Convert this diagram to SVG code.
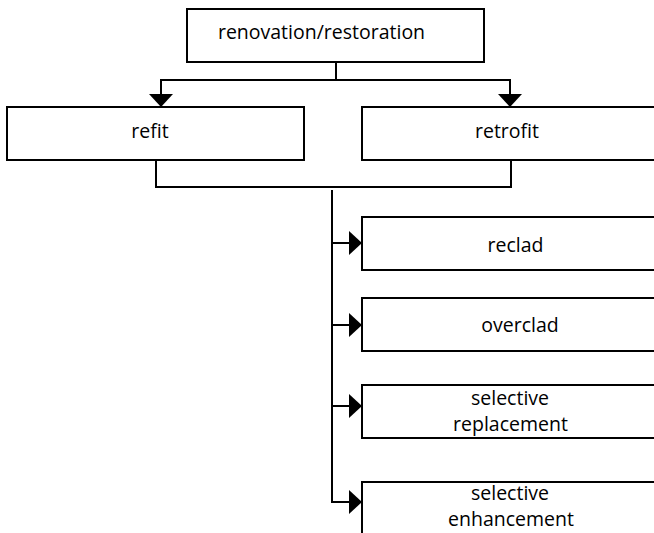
<svg xmlns="http://www.w3.org/2000/svg" width="654" height="533" viewBox="0 0 654 533">
<style>
.box{fill:#fff;stroke:#000;stroke-width:2}
.ln{fill:none;stroke:#000;stroke-width:2}
text{font-family:"Open Sans","Liberation Sans",sans-serif;font-size:19.5px;fill:#000;text-anchor:middle}
</style>
<defs>
<marker id="arr" viewBox="0 0 13 24" markerWidth="13" markerHeight="24" refX="13" refY="12" orient="auto" markerUnits="userSpaceOnUse">
<path d="M0,0 L13,12 L0,24 Z" fill="#000"/>
</marker>
</defs>
<rect width="654" height="533" fill="#fff"/>
<g id="connectors">
<path class="ln" d="M336,62 V80"/>
<path class="ln" d="M160,80 H511"/>
<path class="ln" d="M161,80 V107" marker-end="url(#arr)"/>
<path class="ln" d="M510,80 V107" marker-end="url(#arr)"/>
<path class="ln" d="M156,160 V187 H511 V160"/>
<path class="ln" d="M332,190 V502"/>
<path class="ln" d="M331,243 H362" marker-end="url(#arr)"/>
<path class="ln" d="M331,325 H362" marker-end="url(#arr)"/>
<path class="ln" d="M331,406 H362" marker-end="url(#arr)"/>
<path class="ln" d="M331,502 H362" marker-end="url(#arr)"/>
</g>
<g id="node-renovation">
<rect class="box" x="187" y="9" width="297" height="53"/>
<text x="321.5" y="39">renovation/restoration</text>
</g>
<g id="node-refit">
<rect class="box" x="7" y="107" width="297" height="53"/>
<text x="150" y="138">refit</text>
</g>
<g id="node-retrofit">
<rect class="box" x="362" y="107" width="310" height="53"/>
<text x="507" y="138">retrofit</text>
</g>
<g id="node-reclad">
<rect class="box" x="362" y="217" width="310" height="53"/>
<text x="515.5" y="252">reclad</text>
</g>
<g id="node-overclad">
<rect class="box" x="362" y="298" width="310" height="53"/>
<text x="520" y="332">overclad</text>
</g>
<g id="node-selective-replacement">
<rect class="box" x="362" y="385" width="310" height="53"/>
<text x="510" y="405">selective</text>
<text x="510.5" y="431">replacement</text>
</g>
<g id="node-selective-enhancement">
<rect class="box" x="362" y="482" width="310" height="60"/>
<text x="510" y="500">selective</text>
<text x="511" y="526">enhancement</text>
</g>
</svg>
